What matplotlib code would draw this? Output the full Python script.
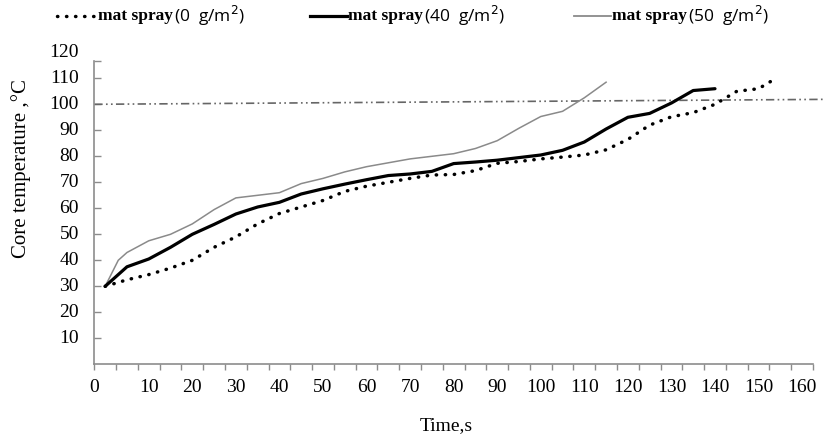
import matplotlib
matplotlib.use("Agg")
import matplotlib.pyplot as plt
from matplotlib.lines import Line2D
import numpy as np

# ---- data ----
t0 = [0, 5, 10, 15, 20, 25, 30, 35, 40, 45, 50, 55, 60, 65, 70, 75, 80, 85, 90, 95,
      100, 105, 110, 115, 120, 125, 130, 135, 140, 145, 150, 154]
temp0 = [30, 32.5, 34.5, 37, 40, 45, 49, 54, 58, 60.5, 63, 66.5, 68.5, 70, 71.5, 72.8,
         73, 74.5, 77.3, 78, 79, 79.7, 80.5, 82.5, 86.5, 92, 95.2, 96.8, 100, 105, 106, 110]

t40 = [0, 5, 10, 15, 20, 25, 30, 35, 40, 45, 50, 55, 60, 65, 70, 75, 80, 85, 90, 95,
       100, 105, 110, 115, 120, 125, 130, 135, 140]
temp40 = [30, 37.5, 40.5, 45, 50, 53.8, 57.8, 60.5, 62.3, 65.5, 67.5, 69.3, 71, 72.6, 73.2,
          74.2, 77.2, 77.8, 78.5, 79.5, 80.5, 82.3, 85.5, 90.5, 95, 96.5, 100.5, 105.3, 106]

t50 = [0, 3, 5, 10, 15, 20, 25, 30, 35, 40, 45, 50, 55, 60, 65, 70, 75, 80, 85, 90, 95,
       100, 105, 110, 115]
temp50 = [30, 40, 43, 47.5, 50, 54, 59.5, 64, 65, 66, 69.5, 71.5, 74, 76, 77.5, 79, 80, 81,
          83, 86, 90.8, 95.3, 97.3, 102.5, 108.5]

ref_t = [-2.5, 165.1]
ref_temp = [100, 101.9]

x_labels = [0, 10, 20, 30, 40, 50, 60, 70, 80, 90, 100, 110, 120, 130, 140, 150, 160]
y_labels = [10, 20, 30, 40, 50, 60, 70, 80, 90, 100, 110, 120]
legend_names = ["(0  g/m$^2$)", "(40  g/m$^2$)", "(50  g/m$^2$)"]

W, H = 826, 443
fig = plt.figure(figsize=(W / 100, H / 100), dpi=100)
ax = fig.add_axes([94.3 / W, 1 - 364.3 / H, (813 - 94.3) / W, (364.3 - 52.3) / H])

serif = ["Liberation Serif", "DejaVu Serif"]
spine_col = "#8c8c8c"

ax.plot(ref_t, ref_temp, color="#666666", lw=1.2, ls=(0, (5, 2, 1, 2, 1, 2)), clip_on=False)
ax.plot(t50, temp50, color="#8a8a8a", lw=1.1, solid_joinstyle="round")
ax.plot(t40, temp40, color="black", lw=2.3, solid_joinstyle="round", solid_capstyle="round")
ax.plot(t0, temp0, color="black", lw=2.5, ls=(0, (0.1, 2.5)), dash_capstyle="round")

ax.set_xlim(-2.5, 162.5)
ax.set_ylim(0, 120)

for s in ["top", "right"]:
    ax.spines[s].set_visible(False)
for s in ["left", "bottom"]:
    ax.spines[s].set_color(spine_col)
    ax.spines[s].set_linewidth(1.2)
ax.spines["left"].set_bounds(0, 116.8)

# x ticks: marks every 5 (between), labels at values
ax.set_xticks(np.arange(-2.5, 163, 5))
ax.set_xticklabels([])
ax.tick_params(axis="x", direction="out", length=4, width=1, color=spine_col)
for v in x_labels:
    xv = -2.5 if v == 0 else v
    ax.text(xv, -5.5, str(v), ha="center", va="top", fontsize=14, family=serif,
            transform=ax.transData, clip_on=False)

ax.set_yticks(list(range(10, 120, 10)) + [116.8])
ax.set_yticklabels([])
ax.tick_params(axis="y", direction="in", length=5, width=1, color=spine_col)
for v in y_labels:
    ax.text(-6.0, v, str(v), ha="right", va="center", fontsize=14, family=serif,
            transform=ax.transData, clip_on=False)

fig.text(446 / W, 1 - 426 / H, "Time,s", ha="center", va="center", fontsize=14, family=serif)
fig.text(21 / W, 1 - 169 / H, "Core temperature ,\u00b0C", ha="center", va="center",
         rotation=90, fontsize=15, family=serif)

# legend (manual)
handles = [(57, 97, dict(color="black", lw=2.5, ls=(0, (0.1, 2.5)), dash_capstyle="round")),
           (310, 347, dict(color="black", lw=2.3)),
           (574, 611, dict(color="#8a8a8a", lw=1.3))]
ly = 1 - 16 / H
fig.canvas.draw()
r = fig.canvas.get_renderer()
for (x1, x2, kw), name in zip(handles, legend_names):
    fig.add_artist(Line2D([x1 / W, x2 / W], [ly, ly], transform=fig.transFigure, **kw))
    t1 = fig.text((x2 + 1.5) / W, ly, "mat spray", ha="left", va="center", fontsize=12.5,
                  family=serif, weight="bold")
    bb = t1.get_window_extent(r)
    fig.text((bb.x1 + 1) / W, ly, name, ha="left", va="center", fontsize=12.5,
             family=["Open Sans", "DejaVu Sans"])

fig.savefig("out.png", dpi=100)
